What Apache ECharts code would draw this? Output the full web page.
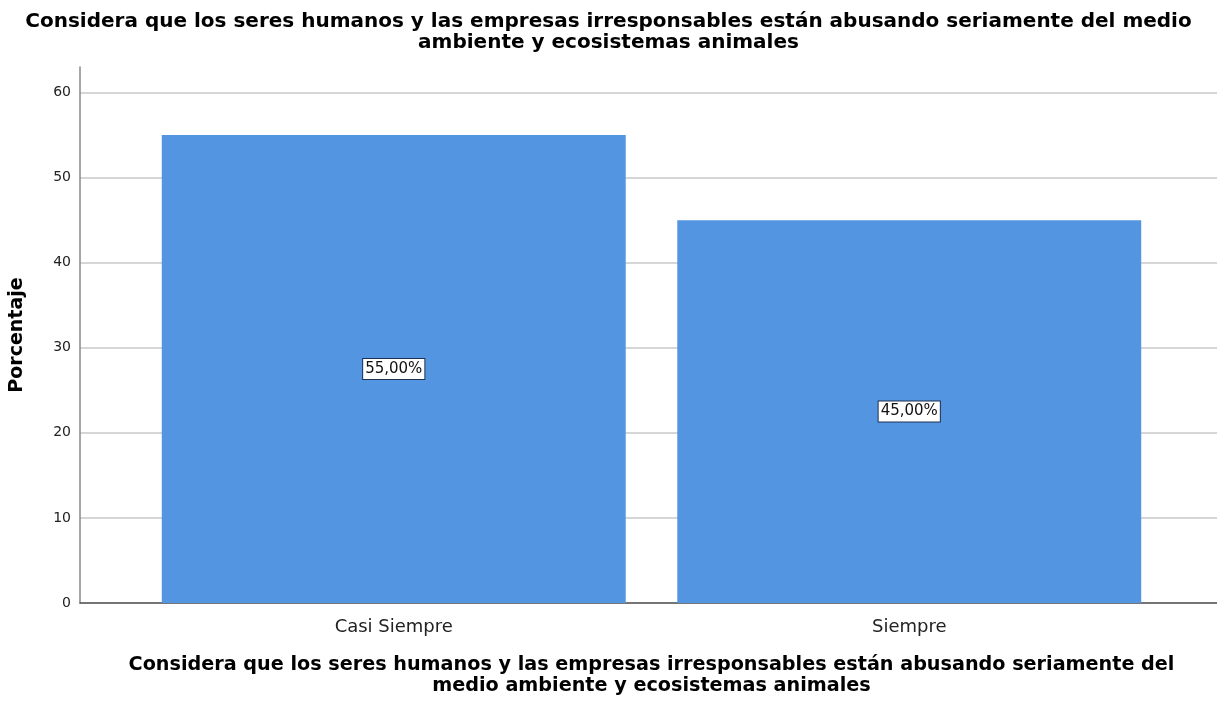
<!DOCTYPE html>
<html>
<head>
<meta charset="utf-8">
<script src="https://cdn.jsdelivr.net/npm/echarts@6/dist/echarts.min.js"></script>
<style>html,body{margin:0;padding:0;background:#fff}#c{width:1217px;height:706px}</style>
</head>
<body>
<div id="c"></div>
<script>
const titleText = 'Considera que los seres humanos y las empresas irresponsables están abusando seriamente del medio\nambiente y ecosistemas animales';
const xAxisName = 'Considera que los seres humanos y las empresas irresponsables están abusando seriamente del\nmedio ambiente y ecosistemas animales';
const yAxisName = 'Porcentaje';
const categories = ['Casi Siempre', 'Siempre'];
const percentages = [55.0, 45.0];
const yMin = 0, yMax = 63, yStep = 10;

const font = 'DejaVu Sans, sans-serif';
const chart = echarts.init(document.getElementById('c'), null, {renderer: 'canvas'});
chart.setOption({
  animation: false,
  backgroundColor: '#ffffff',
  title: {
    text: titleText, left: 'center', top: 6,
    textStyle: {fontFamily: font, fontSize: 20, fontWeight: 'bold', color: '#000', lineHeight: 21}
  },
  grid: [
    {left: 79, right: 0, top: 67, bottom: 103},
    {left: 136, width: 1031, top: 67, bottom: 103}
  ],
  xAxis: [
    {type: 'value', gridIndex: 0, min: 0, max: 1, show: true,
     axisLine: {show: true, onZero: false, lineStyle: {color: '#555', width: 1.5}},
     axisTick: {show: false}, axisLabel: {show: false}, splitLine: {show: false}},
    {type: 'category', gridIndex: 1, data: categories,
     axisLine: {show: false}, axisTick: {show: false},
     axisLabel: {fontFamily: font, fontSize: 18, color: '#222', margin: 15},
     name: xAxisName, nameLocation: 'middle', nameGap: 52,
     nameTextStyle: {fontFamily: font, fontSize: 19.2, fontWeight: 'bold', color: '#000', lineHeight: 21}}
  ],
  yAxis: [
    {type: 'value', gridIndex: 0, min: yMin, max: yMax, interval: yStep,
     axisLine: {show: true, lineStyle: {color: '#888', width: 1.5}},
     axisTick: {show: false},
     axisLabel: {fontFamily: font, fontSize: 14, color: '#222', margin: 9, showMaxLabel: false,
                 formatter: v => (v % yStep === 0 ? String(v) : '')},
     splitLine: {show: true, showMaxLine: false, lineStyle: {color: '#c8c8c8', width: 1.5}},
     name: yAxisName, nameLocation: 'middle', nameGap: 53,
     nameTextStyle: {fontFamily: font, fontSize: 19, fontWeight: 'bold', color: '#000'}},
    {type: 'value', gridIndex: 1, min: yMin, max: yMax, interval: yStep, show: false,
     splitLine: {show: false}}
  ],
  series: [{
    type: 'bar', xAxisIndex: 1, yAxisIndex: 1,
    data: percentages,
    barCategoryGap: '10%',
    itemStyle: {color: '#5495e2'},
    label: {
      show: true, position: 'inside',
      formatter: p => p.value.toFixed(2).replace('.', ',') + '%',
      fontFamily: font, fontSize: 15, color: '#111',
      backgroundColor: '#fff', borderColor: '#1f3050', borderWidth: 1, padding: [3, 2, 2, 2]
    }
  }]
});
</script>
</body>
</html>
